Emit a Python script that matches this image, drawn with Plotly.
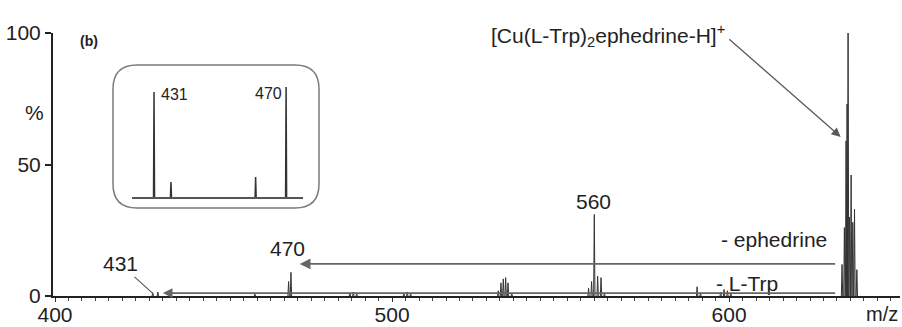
import plotly.graph_objects as go

# ---------------- data ----------------
# main spectrum: peak centres (m/z) and relative intensities (%)
peak_mz = [429.0, 430.5, 459.3, 469.3, 470.0, 487.5, 488.5, 489.5,
           503.5, 504.5, 505.5,
           531.5, 532.3, 533.0, 533.7, 534.4, 535.5,
           558.3, 559.2, 560.0, 561.0, 562.0, 563.0,
           590.5, 591.5, 597.5, 598.5, 599.5, 600.5,
           633.5, 634.2, 634.7, 635.0, 635.3, 635.7, 636.2, 636.7, 637.2, 637.9]
peak_int = [1.2, 1.5, 0.7, 5.5, 9.0, 1.0, 1.5, 0.8,
            0.8, 1.5, 0.8,
            2.0, 5.0, 6.5, 7.0, 5.0, 1.0,
            3.0, 5.5, 31.0, 7.5, 7.0, 1.0,
            3.5, 1.0, 1.5, 2.5, 2.0, 1.0,
            12.0, 26.0, 59.0, 73.0, 100.0, 30.0, 46.0, 28.0, 33.0, 10.0]

# inset spectrum
inset_mz = [431.0, 436.0, 461.0, 470.0]
inset_int = [95.5, 13.6, 18.2, 100.0]

x_ticks = [400, 500, 600]
y_ticks = [0, 50, 100]

FONT = "Liberation Sans, Arial, sans-serif"
TXT = "#222222"
LINE = "#333333"
ARR = "#5a5a5a"


def sticks(mz, inten, w):
    xs, ys = [], []
    for m, h in zip(mz, inten):
        xs += [m - w, m, m + w, None]
        ys += [0, h, 0, None]
    return xs, ys


fig = go.Figure()

mx, my = sticks(peak_mz, peak_int, 0.2)
fig.add_trace(go.Scatter(x=mx, y=my, mode="lines",
                         line=dict(color=LINE, width=1.0),
                         hoverinfo="skip", showlegend=False))

ix, iy = sticks(inset_mz, inset_int, 0.15)
fig.add_trace(go.Scatter(x=ix, y=iy, mode="lines", xaxis="x2", yaxis="y2",
                         line=dict(color=LINE, width=1.5),
                         hoverinfo="skip", showlegend=False))

fig.update_layout(
    width=902, height=327,
    margin=dict(l=53, r=2, t=33, b=31, autoexpand=False),
    paper_bgcolor="white", plot_bgcolor="white",
    font=dict(family=FONT, size=21, color=TXT),
    xaxis=dict(range=[399.4, 650.7], showgrid=False, zeroline=False,
               automargin=False,
               showline=True, linecolor="#222", linewidth=1.5,
               ticks="outside", ticklen=4, tickcolor="#333", tickwidth=1,
               tickvals=x_ticks, ticktext=[str(v) for v in x_ticks],
               tickfont=dict(size=21, color=TXT), ticklabelstandoff=-5,
               minor=dict(dtick=4, tick0=400, ticks="outside", ticklen=3,
                          tickcolor="#444", tickwidth=1, showgrid=False)),
    yaxis=dict(range=[0, 100], showgrid=False, zeroline=False,
               automargin=False,
               showline=True, linecolor="#222", linewidth=2,
               ticks="outside", ticklen=6, tickcolor="#222", tickwidth=1.5,
               tickvals=y_ticks, ticktext=[str(v) for v in y_ticks],
               tickfont=dict(size=21, color=TXT)),
    xaxis2=dict(domain=[0.0933, 0.2952], anchor="y2", range=[424.5, 475],
                automargin=False,
                showgrid=False, zeroline=False, showline=True,
                linecolor="#555", linewidth=1.5, showticklabels=False,
                ticks=""),
    yaxis2=dict(domain=[0.3764, 0.7946], anchor="x2", range=[0, 100],
                automargin=False, visible=False),
)

# rounded inset frame (paper coords: x=(px-53)/847, y=(296-py)/263)
x0, x1 = (113 - 53) / 847, (319 - 53) / 847
y0, y1 = (296 - 208) / 263, (296 - 65) / 263
rx, ry = 24 / 847, 24 / 263
path = (f"M {x0+rx},{y0} L {x1-rx},{y0} Q {x1},{y0} {x1},{y0+ry} "
        f"L {x1},{y1-ry} Q {x1},{y1} {x1-rx},{y1} "
        f"L {x0+rx},{y1} Q {x0},{y1} {x0},{y1-ry} "
        f"L {x0},{y0+ry} Q {x0},{y0} {x0+rx},{y0} Z")
fig.add_shape(type="path", path=path, xref="paper", yref="paper",
              line=dict(color="#7a7a7a", width=1.5), fillcolor="rgba(0,0,0,0)")

ann = []
# peak labels
ann.append(dict(x=468.9, y=18.0, text="470", showarrow=False))
ann.append(dict(x=559.8, y=36.0, text="560", showarrow=False))
ann.append(dict(x=631.0, y=104.2, text="635", showarrow=False))
# 431 with leader line
ann.append(dict(x=429.0, y=1.0, ax=419.3, ay=12.2, axref="x", ayref="y",
                text="431", showarrow=True, arrowhead=0, arrowwidth=1.2,
                arrowcolor=ARR, standoff=0))
# complex label + arrow
ann.append(dict(x=599.4, y=99.0, text="[Cu(L-Trp)<sub>2</sub>ephedrine-H]<sup>+</sup>",
                showarrow=False, xanchor="right", yanchor="middle"))
ann.append(dict(x=633.1, y=60.5, ax=599.6, ay=98.1, axref="x", ayref="y",
                text="", showarrow=True, arrowhead=2, arrowsize=1.4,
                arrowwidth=1.3, arrowcolor=ARR, standoff=0))
# loss arrows
ann.append(dict(x=597.0, y=21.3, text="- ephedrine", showarrow=False,
                xanchor="left", yanchor="middle"))
ann.append(dict(x=472.6, y=12.2, ax=631.9, ay=12.2, axref="x", ayref="y",
                text="", showarrow=True, arrowhead=2, arrowsize=1.2,
                arrowwidth=1.8, arrowcolor="#666", standoff=0))
ann.append(dict(x=595.5, y=4.9, text="- L-Trp", showarrow=False,
                xanchor="left", yanchor="middle"))
ann.append(dict(x=432.0, y=1.1, ax=631.9, ay=1.1, axref="x", ayref="y",
                text="", showarrow=True, arrowhead=2, arrowsize=1.2,
                arrowwidth=1.6, arrowcolor="#666", standoff=0))
# inset labels
ann.append(dict(x=437.0, y=93.0, xref="x2", yref="y2", text="431",
                showarrow=False, font=dict(size=16)))
ann.append(dict(x=464.7, y=94.0, xref="x2", yref="y2", text="470",
                showarrow=False, font=dict(size=16)))
# misc text
ann.append(dict(x=(89 - 53) / 847, y=(296 - 41) / 263, xref="paper", yref="paper",
                text="<b>(b)</b>", showarrow=False, font=dict(size=14),
                xanchor="center", yanchor="middle"))
ann.append(dict(x=(34 - 53) / 847, y=(296 - 112) / 263, xref="paper", yref="paper",
                text="%", showarrow=False, xanchor="center", yanchor="middle"))
ann.append(dict(x=(900 - 53) / 847, y=(296 - 314) / 263, xref="paper", yref="paper",
                text="m/z", showarrow=False, xanchor="right", yanchor="middle",
                font=dict(size=20)))

for a in ann:
    a.setdefault("xref", "x")
    a.setdefault("yref", "y")
    fig.add_annotation(**a)

fig.write_html("out.html")
